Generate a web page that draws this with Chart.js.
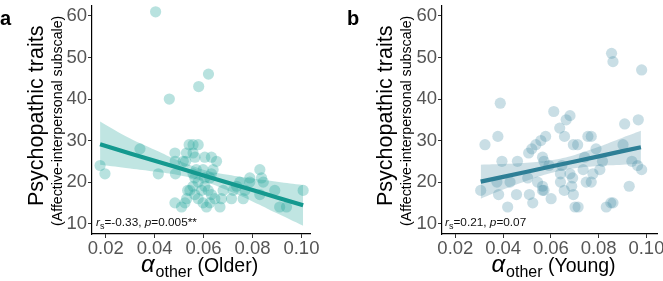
<!DOCTYPE html>
<html>
<head>
<meta charset="utf-8">
<script src="https://cdn.jsdelivr.net/npm/chart.js@4.4.1/dist/chart.umd.min.js"></script>
<style>
  html, body { margin: 0; padding: 0; background: #fff; }
  .panel { position: absolute; top: 0; height: 281px; }
  #pa { left: 0; width: 331px; }
  #pb { left: 331px; width: 332px; }
</style>
</head>
<body>
<div class="panel" id="pa"><canvas id="older" width="331" height="281"></canvas></div>
<div class="panel" id="pb"><canvas id="young" width="332" height="281"></canvas></div>
<script>
// ===== DATA =====
const X_TICKS = [0.02, 0.04, 0.06, 0.08, 0.10];
const Y_TICKS = [10, 20, 30, 40, 50, 60];

// a: older adults
const olderX = [0.0404, 0.062, 0.058, 0.046, 0.0177, 0.0197, 0.034, 0.0415, 0.0483, 0.0484,
  0.0485, 0.0541, 0.0557, 0.0578, 0.053, 0.0557, 0.0517, 0.0527, 0.0565, 0.0605,
  0.0632, 0.0653, 0.0598, 0.0639, 0.057, 0.0535, 0.0531, 0.0544, 0.0557, 0.0564,
  0.0578, 0.0592, 0.0605, 0.0619, 0.0632, 0.0598, 0.0612, 0.0626, 0.0483, 0.051,
  0.0524, 0.0667, 0.0646, 0.0673, 0.068, 0.0714, 0.0721, 0.0735, 0.0748, 0.0762,
  0.0769, 0.0789, 0.0789, 0.083, 0.0837, 0.0844, 0.083, 0.0891, 0.0911, 0.0939,
  0.1007, 0.0605, 0.0626, 0.0632, 0.0564, 0.0578, 0.0557];
const olderY = [61, 46, 43, 40, 24, 22, 28, 22, 27, 25,
  22, 29, 29, 29, 27, 27, 25, 25, 26, 26,
  26, 25, 23, 23, 23, 18, 16, 18, 19, 17,
  16, 18, 19, 18, 17, 15, 14, 15, 15, 14,
  15, 14, 16, 16, 18, 16, 18, 19, 20, 16,
  18, 21, 20, 23, 21, 20, 17, 18, 14, 14,
  18, 21, 21, 22, 21, 20, 22];
// fitted line and 95% band
const olderFitX  = [0.0177, 0.03, 0.04, 0.05, 0.06, 0.07, 0.08, 0.09, 0.1007];
const olderFitY  = [29.1, 26.9, 25.15, 23.4, 21.6, 19.85, 18.1, 16.3, 14.4];
const olderFitHi = [34.6, 30.5, 27.8, 25.15, 23.0, 21.75, 20.85, 20.1, 19.3];
const olderFitLo = [24.2, 23.3, 22.55, 21.65, 20.2, 17.95, 15.35, 12.5, 9.5];

// b: young adults
const youngX = [0.0854, 0.086, 0.098, 0.0388, 0.0612, 0.068, 0.0664, 0.0637, 0.0909, 0.0966,
  0.0324, 0.0378, 0.0578, 0.0657, 0.0755, 0.0769, 0.0558, 0.0537, 0.0694, 0.0712,
  0.0789, 0.0902, 0.0395, 0.046, 0.0507, 0.052, 0.0565, 0.0571, 0.0592, 0.0646,
  0.064, 0.068, 0.0691, 0.0741, 0.0735, 0.0776, 0.0816, 0.0805, 0.0939, 0.0963,
  0.098, 0.0306, 0.0374, 0.0381, 0.0429, 0.0456, 0.0419, 0.0503, 0.051, 0.0524,
  0.0544, 0.0565, 0.0565, 0.0571, 0.0601, 0.064, 0.0656, 0.0687, 0.0694, 0.0701,
  0.0714, 0.0748, 0.0769, 0.0832, 0.0851, 0.086, 0.0928];
const youngY = [51, 49, 47, 39, 37, 36, 35, 33, 34, 35,
  29, 31, 31, 31, 31, 31, 30, 29, 29, 29,
  28, 29, 25, 25, 27, 28, 26, 25, 24, 24,
  22, 22, 21, 26, 23, 22, 25, 23, 25, 24,
  23, 18, 20, 17, 20, 17, 14, 21, 17, 15,
  20, 19, 18, 18, 16, 20, 18, 19, 17, 14,
  14, 20, 20, 14, 15, 15, 19];
const youngFitX  = [0.0306, 0.04, 0.05, 0.06, 0.07, 0.08, 0.09, 0.0977];
const youngFitY  = [20.1, 21.26, 22.5, 23.74, 24.97, 26.2, 27.45, 28.4];
const youngFitHi = [24.2, 24.35, 24.65, 25.25, 26.55, 28.5, 30.7, 32.35];
const youngFitLo = [16.0, 18.2, 20.35, 22.2, 23.35, 23.9, 24.15, 24.45];

const FONT = "'Liberation Sans', Arial, sans-serif";
const pts = (xs, ys) => xs.map((x, i) => ({ x, y: ys[i] }));

// text that ggplot puts round the panel (two-size y title, subscripts)
function decorPlugin(cfg) {
  return {
    id: 'decor',
    afterDraw(chart) {
      const ctx = chart.ctx;
      const area = chart.chartArea;
      ctx.save();
      ctx.fillStyle = '#000';

      // panel letter
      ctx.font = 'bold 20px ' + FONT;
      ctx.textAlign = 'left';
      ctx.textBaseline = 'alphabetic';
      ctx.fillText(cfg.letter, cfg.letterX, 25);

      // y title, two lines
      const cy = (area.top + area.bottom) / 2;
      ctx.save();
      ctx.translate(cfg.titleX, cy - 4);
      ctx.rotate(-Math.PI / 2);
      ctx.textAlign = 'center';
      ctx.textBaseline = 'middle';
      ctx.font = '21.5px ' + FONT;
      ctx.fillText('Psychopathic traits', 0, 0);
      ctx.restore();
      ctx.save();
      ctx.translate(cfg.subX, cy + 1);
      ctx.rotate(-Math.PI / 2);
      ctx.textAlign = 'center';
      ctx.textBaseline = 'middle';
      ctx.font = '14.2px ' + FONT;
      ctx.fillText('(Affective-interpersonal subscale)', 0, 0);
      ctx.restore();

      // x title: alpha_other (Group)
      const big = '19.5px ' + FONT, sub = '16px ' + FONT, alf = 'italic 24px ' + FONT;
      ctx.textAlign = 'left';
      ctx.textBaseline = 'alphabetic';
      ctx.font = alf; const wA = ctx.measureText('α').width;
      ctx.font = sub; const wS = ctx.measureText('other').width;
      ctx.font = big; const wG = ctx.measureText(' (' + cfg.group + ')').width;
      let x = cfg.xTitleX - (wA + wS + wG) / 2;
      const base = 272;
      ctx.font = alf; ctx.fillText('α', x, base); x += wA + 1;
      ctx.font = sub; ctx.fillText('other', x, base + 5); x += wS;
      ctx.font = big; ctx.fillText(' (' + cfg.group + ')', x, base);

      // Spearman annotation
      let ax = area.left + cfg.noteDX;
      const ab = 226;
      ctx.fillStyle = '#111';
      const seg = (t, f, dy) => { ctx.font = f; ctx.fillText(t, ax, ab + (dy || 0)); ax += ctx.measureText(t).width; };
      seg('r', 'italic 11.8px ' + FONT);
      seg('s', '9px ' + FONT, 2.5);
      seg('=' + cfg.rs + ', ', '11.8px ' + FONT);
      seg('p', 'italic 11.8px ' + FONT);
      seg('=' + cfg.p, '11.8px ' + FONT);
      ctx.restore();
    }
  };
}

function makePanel(canvasId, c) {
  return new Chart(document.getElementById(canvasId), {
    type: 'scatter',
    data: {
      datasets: [
        { type: 'line', data: pts(c.fitX, c.fitY), borderColor: c.lineColor, borderWidth: 4.2,
          pointRadius: 0, fill: false, tension: 0, order: 0 },
        { type: 'line', data: pts(c.fitX, c.fitHi), borderWidth: 0, borderColor: 'rgba(0,0,0,0)',
          backgroundColor: c.bandColor, pointRadius: 0, fill: '+1', tension: 0.4, order: 1 },
        { type: 'line', data: pts(c.fitX, c.fitLo), borderWidth: 0, borderColor: 'rgba(0,0,0,0)',
          pointRadius: 0, fill: false, tension: 0.4, order: 1 },
        { data: pts(c.xs, c.ys), backgroundColor: c.pointColor, borderWidth: 0,
          pointRadius: 5.6, order: 2 }
      ]
    },
    options: {
      responsive: false,
      animation: false,
      layout: { padding: { top: 0, left: 0, bottom: 0, right: c.padRight } },
      plugins: { legend: { display: false }, tooltip: { enabled: false } },
      scales: {
        x: {
          type: 'linear', min: c.xMin, max: c.xMax,
          grid: { drawOnChartArea: false, drawTicks: true, tickLength: 4, color: '#333' },
          border: { display: true, color: '#000', width: 1.2 },
          ticks: { color: '#555', font: { size: 18.5, family: FONT }, padding: 0, maxRotation: 0,
                   autoSkip: false, callback: v => v.toFixed(2) },
          afterBuildTicks: s => { s.ticks = X_TICKS.map(v => ({ value: v })); },
          afterFit: s => { s.height = 47; s.paddingLeft = 0; s.paddingRight = 0; }
        },
        y: {
          min: 7.5, max: 62.5,
          grid: { drawOnChartArea: false, drawTicks: true, tickLength: 4, color: '#333' },
          border: { display: true, color: '#000', width: 1.2 },
          ticks: { color: '#555', font: { size: 18.5, family: FONT }, padding: 1,
                   autoSkip: false, callback: v => String(v) },
          afterBuildTicks: s => { s.ticks = Y_TICKS.map(v => ({ value: v })); },
          afterFit: s => { s.width = c.yAxisW; s.paddingTop = 0; s.paddingBottom = 0; }
        }
      }
    },
    plugins: [decorPlugin(c.decor)]
  });
}

makePanel('older', {
  xs: olderX, ys: olderY, fitX: olderFitX, fitY: olderFitY, fitHi: olderFitHi, fitLo: olderFitLo,
  xMin: 0.0144, xMax: 0.1035, yAxisW: 92, padRight: 21,
  lineColor: '#14998f', bandColor: 'rgba(30,160,150,0.28)', pointColor: 'rgba(35,165,155,0.32)',
  decor: { letter: 'a', letterX: 0, titleX: 37, subX: 58, xTitleX: 199, group: 'Older',
           noteDX: 4, rs: '-0.33', p: '0.005**' }
});

makePanel('young', {
  xs: youngX, ys: youngY, fitX: youngFitX, fitY: youngFitY, fitHi: youngFitHi, fitLo: youngFitLo,
  xMin: 0.0144, xMax: 0.1046, yAxisW: 111, padRight: 0,
  lineColor: '#2e7f96', bandColor: 'rgba(60,130,155,0.25)', pointColor: 'rgba(62,135,160,0.28)',
  decor: { letter: 'b', letterX: 16, titleX: 55, subX: 76, xTitleX: 222, group: 'Young',
           noteDX: 3, rs: '0.21', p: '0.07' }
});
</script>
</body>
</html>
